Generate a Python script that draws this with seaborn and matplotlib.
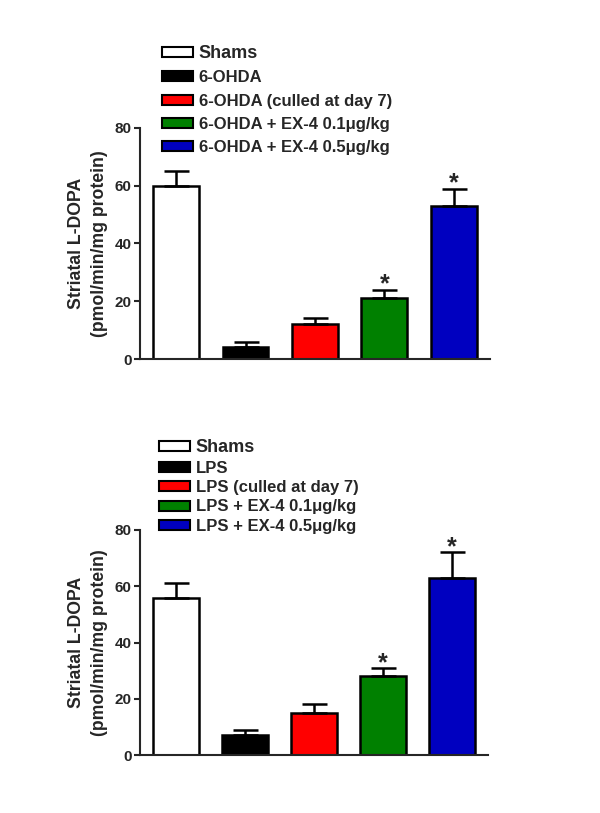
import matplotlib
matplotlib.use('Agg')
import matplotlib.pyplot as plt
import seaborn as sns
from matplotlib.patches import Patch


# Data (mean and upper SEM)
ohda_groups = ['Shams', '6-OHDA', '6-OHDA (culled at day 7)',
               '6-OHDA + EX-4 0.1\u03bcg/kg', '6-OHDA + EX-4 0.5\u03bcg/kg']
ohda_means = [60, 4, 12, 21, 53]
ohda_sem = [5, 2, 2.3, 3, 6]
ohda_sig = [False, False, False, True, True]

lps_groups = ['Shams', 'LPS', 'LPS (culled at day 7)',
              'LPS + EX-4 0.1\u03bcg/kg', 'LPS + EX-4 0.5\u03bcg/kg']
lps_means = [56, 7, 15, 28, 63]
lps_sem = [5, 2, 3, 3, 9]
lps_sig = [False, False, False, True, True]

bar_colors = ['#ffffff', '#000000', '#ff0000', '#008000', '#0000c0']
y_ticks = [0, 20, 40, 60, 80]
y_label = 'Striatal L-DOPA\n(pmol/min/mg protein)'

sns.set_style('ticks')
plt.rcParams['font.family'] = ['Liberation Sans', 'DejaVu Sans']
plt.rcParams['font.weight'] = 'bold'


def draw_panel(ax, groups, means, sem, sig):
    sns.barplot(x=groups, y=means, hue=groups, palette=bar_colors, dodge=False,
                width=0.66, edgecolor='black', linewidth=1.8, saturation=1,
                legend=False, ax=ax)
    xs = range(len(groups))
    ax.errorbar(xs, means, yerr=[[0] * len(sem), sem], fmt='none', ecolor='black',
                elinewidth=1.8, capsize=9, capthick=1.8, zorder=1)
    for i, flag in enumerate(sig):
        if flag:
            ax.annotate('*', (i, means[i] + sem[i]), xytext=(0, -1.5),
                        textcoords='offset points', ha='center', va='baseline',
                        fontsize=18, fontweight='bold')
    ax.set_xlim(-0.52, 4.52)
    ax.set_ylim(0, 80)
    ax.set_yticks(y_ticks)
    ax.set_xticks([])
    ax.tick_params(axis='y', direction='out', length=4, width=1.5, pad=2, labelsize=11)
    for lbl in ax.get_yticklabels():
        lbl.set_fontweight('bold')
    ax.set_ylabel(y_label, fontsize=12.7, fontweight='bold', linespacing=1.45, labelpad=5)
    sns.despine(ax=ax)
    ax.spines['left'].set_linewidth(1.5)
    ax.spines['bottom'].set_linewidth(1.5)


def add_legend(fig, groups, anchor, spacing):
    handles = [Patch(facecolor=c, edgecolor='black', linewidth=1.5) for c in bar_colors]
    leg = fig.legend(handles, groups, loc='upper left', bbox_to_anchor=anchor,
                     frameon=False, borderpad=0, borderaxespad=0,
                     handlelength=1.85, handleheight=0.55, handletextpad=0.35,
                     labelspacing=spacing, prop={'weight': 'bold', 'size': 12})
    leg.get_texts()[0].set_fontsize(13)
    return leg


fig = plt.figure(figsize=(6, 8.13), dpi=100)
ax1 = fig.add_axes([0.2333, 0.5584, 0.5833, 0.2842])
ax2 = fig.add_axes([0.2333, 0.0713, 0.5800, 0.2768])

draw_panel(ax1, ohda_groups, ohda_means, ohda_sem, ohda_sig)
draw_panel(ax2, lps_groups, lps_means, lps_sem, lps_sig)

add_legend(fig, ohda_groups, (162 / 600, 1 - 45 / 813), 0.5)
add_legend(fig, lps_groups, (159 / 600, 1 - 439 / 813), 0.27)

fig.savefig('out.png', dpi=100)
